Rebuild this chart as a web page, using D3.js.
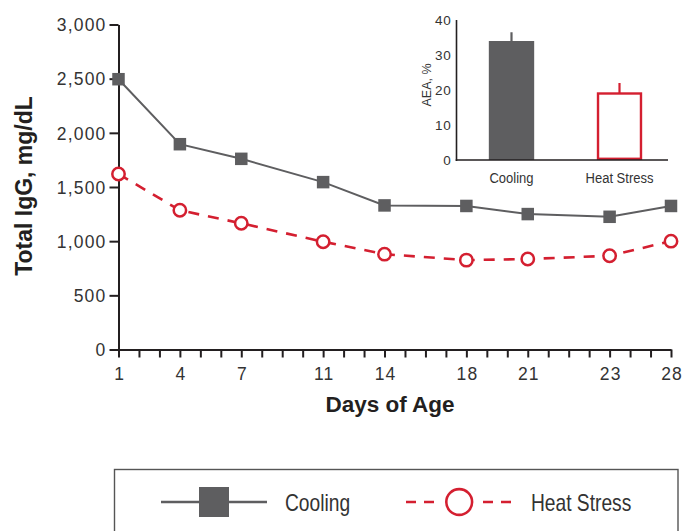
<!DOCTYPE html>
<html>
<head>
<meta charset="utf-8">
<script src="https://cdn.jsdelivr.net/npm/d3@7"></script>
<style>
  html, body { margin: 0; padding: 0; background: #fff; }
  svg { display: block; }
</style>
</head>
<body>
<svg id="chart" width="684" height="531"></svg>
<script>
// ---- Data ----
// Days at which samples are plotted (position on the day axis, as drawn in the original)
const xDays = [1, 4, 7, 11, 14, 18, 21, 25, 28];
// Tick labels printed under those positions in the original
const xLabels = ["1", "4", "7", "11", "14", "18", "21", "23", "28"];
const coolingIgG = [2495, 1895, 1760, 1545, 1330, 1325, 1250, 1225, 1325];
const heatIgG = [1620, 1285, 1165, 995, 880, 825, 835, 865, 1000];
const yTicks = [0, 500, 1000, 1500, 2000, 2500, 3000];

// Inset: AEA, %
const aeaCats = ["Cooling", "Heat Stress"];
const aeaValues = [34, 19];
const aeaErr = [2.5, 3];
const aeaTicks = [0, 10, 20, 30, 40];

const seriesNames = ["Cooling", "Heat Stress"];

// ---- Styles ----
const GRAY = "#5e5e60";
const RED = "#d41f30";
const AXIS = "#231f20";
const TEXT = "#333333";
const numFont = "'Liberation Sans', Arial, sans-serif";
const sansFont = "'Liberation Sans', Arial, sans-serif";
const boldFont = "'Liberation Sans', Arial, sans-serif";

const svg = d3.select("#chart");

// helper: horizontally condensed text
function narrowText(parent, tx, ty, str, size, anchor, sx) {
  return parent.append("text")
    .attr("transform", `translate(${tx},${ty}) scale(${sx},1)`)
    .attr("text-anchor", anchor)
    .attr("font-family", sansFont).attr("font-size", size).attr("fill", TEXT)
    .text(str);
}

// ---- Main chart ----
const x = d3.scaleLinear().domain([1, 28]).range([118.5, 671]);
const y = d3.scaleLinear().domain([0, 3000]).range([349.5, 24.5]);

// X axis
const xAxis = d3.axisBottom(x)
  .tickValues(d3.range(1, 29))
  .tickSize(8)
  .tickSizeOuter(0)
  .tickFormat(d => { const i = xDays.indexOf(d); return i >= 0 ? xLabels[i] : ""; });
const gx = svg.append("g").attr("transform", `translate(0,${y(0)})`).call(xAxis);
gx.select(".domain").attr("stroke", AXIS).attr("stroke-width", 2);
gx.selectAll(".tick line").attr("stroke", AXIS).attr("stroke-width", 2);
gx.selectAll(".tick text")
  .attr("font-family", numFont).attr("font-size", 17.5).attr("fill", TEXT)
  .attr("letter-spacing", 1.2).attr("dx", 0.6)
  .attr("dy", 0).attr("y", 30.5);

// Y axis
const yAxis = d3.axisLeft(y)
  .tickValues(yTicks)
  .tickSize(9)
  .tickSizeOuter(0)
  .tickFormat(d3.format(","));
const gy = svg.append("g").attr("transform", `translate(${x(1)},0)`).call(yAxis);
gy.select(".domain").attr("stroke", AXIS).attr("stroke-width", 2);
gy.selectAll(".tick line").attr("stroke", AXIS).attr("stroke-width", 2);
gy.selectAll(".tick text")
  .attr("font-family", numFont).attr("font-size", 17.5).attr("fill", TEXT)
  .attr("letter-spacing", 1.2)
  .attr("x", -12).attr("dy", "0.36em");

// Axis titles
svg.append("text")
  .attr("transform", `translate(31.5,186) rotate(-90)`)
  .attr("text-anchor", "middle")
  .attr("font-family", boldFont).attr("font-weight", "bold").attr("font-size", 23)
  .attr("fill", AXIS)
  .text("Total IgG, mg/dL");
svg.append("text")
  .attr("x", 390).attr("y", 411.5)
  .attr("text-anchor", "middle")
  .attr("font-family", boldFont).attr("font-weight", "bold").attr("font-size", 22.5)
  .attr("fill", AXIS)
  .text("Days of Age");

// Lines
const line = d3.line().x((d, i) => x(xDays[i])).y(d => y(d));
svg.append("path").datum(coolingIgG)
  .attr("d", line).attr("fill", "none").attr("stroke", GRAY).attr("stroke-width", 2);
svg.append("path").datum(heatIgG)
  .attr("d", line).attr("fill", "none").attr("stroke", RED).attr("stroke-width", 2.6)
  .attr("stroke-dasharray", "11,9");

// Markers
const sq = 12.5;
svg.append("g").selectAll("rect").data(coolingIgG).join("rect")
  .attr("x", (d, i) => x(xDays[i]) - sq / 2)
  .attr("y", d => y(d) - sq / 2)
  .attr("width", sq).attr("height", sq)
  .attr("fill", GRAY);
svg.append("g").selectAll("circle").data(heatIgG).join("circle")
  .attr("cx", (d, i) => x(xDays[i]))
  .attr("cy", d => y(d))
  .attr("r", 6.2)
  .attr("fill", "#fff").attr("stroke", RED).attr("stroke-width", 2.5);

// ---- Inset bar chart ----
const iy = d3.scaleLinear().domain([0, 40]).range([160, 20]);
const ix = d3.scaleBand().domain(aeaCats).range([457.5, 673.5]).paddingInner(0.58).paddingOuter(0.29);
const insetLeft = 456.5, insetRight = 668;

// bars
svg.append("rect")
  .attr("x", ix(aeaCats[0])).attr("y", iy(aeaValues[0]))
  .attr("width", ix.bandwidth()).attr("height", iy(0) - iy(aeaValues[0]))
  .attr("fill", GRAY);
svg.append("rect")
  .attr("x", ix(aeaCats[1]) + 1.2).attr("y", iy(aeaValues[1]))
  .attr("width", ix.bandwidth() - 2.4).attr("height", iy(0) - iy(aeaValues[1]) - 1.2)
  .attr("fill", "#fff").attr("stroke", RED).attr("stroke-width", 2.4);
// error bars
const errColors = [GRAY, RED];
svg.append("g").selectAll("line").data(aeaValues).join("line")
  .attr("x1", (d, i) => ix(aeaCats[i]) + ix.bandwidth() / 2)
  .attr("x2", (d, i) => ix(aeaCats[i]) + ix.bandwidth() / 2)
  .attr("y1", d => iy(d))
  .attr("y2", (d, i) => iy(d + aeaErr[i]))
  .attr("stroke", (d, i) => errColors[i]).attr("stroke-width", 2.2);

// inset axes
svg.append("line").attr("x1", insetLeft).attr("x2", insetLeft).attr("y1", iy(40)).attr("y2", iy(0) + 1)
  .attr("stroke", AXIS).attr("stroke-width", 1.6);
svg.append("line").attr("x1", insetLeft - 0.8).attr("x2", insetRight).attr("y1", iy(0)).attr("y2", iy(0))
  .attr("stroke", AXIS).attr("stroke-width", 1.6);
svg.append("g").selectAll("text").data(aeaTicks).join("text")
  .attr("x", 451.5).attr("y", d => iy(d)).attr("dy", "0.36em")
  .attr("text-anchor", "end")
  .attr("font-family", numFont).attr("font-size", 13.5).attr("fill", TEXT)
  .attr("letter-spacing", 0.8)
  .text(d => d);
const catG = svg.append("g");
aeaCats.forEach(c => narrowText(catG, ix(c) + ix.bandwidth() / 2, 183, c, 15.5, "middle", 0.84));
svg.append("text")
  .attr("transform", "translate(431,85) rotate(-90)")
  .attr("text-anchor", "middle")
  .attr("font-family", sansFont).attr("font-size", 12.5).attr("fill", TEXT)
  .text("AEA, %");

// ---- Legend ----
svg.append("rect")
  .attr("x", 114.5).attr("y", 469.5).attr("width", 563.5).attr("height", 80)
  .attr("fill", "none").attr("stroke", "#555").attr("stroke-width", 1.4);
const ly = 502;
const legG = svg.append("g");
// Cooling
legG.append("line").attr("x1", 161).attr("x2", 267).attr("y1", ly).attr("y2", ly)
  .attr("stroke", GRAY).attr("stroke-width", 2.4);
legG.append("rect").attr("x", 199).attr("y", ly - 15).attr("width", 30).attr("height", 30).attr("fill", GRAY);
narrowText(legG, 285, ly + 8.6, seriesNames[0], 24, "start", 0.8);
// Heat Stress
legG.append("line").attr("x1", 406).attr("x2", 434).attr("y1", ly).attr("y2", ly)
  .attr("stroke", RED).attr("stroke-width", 2.6).attr("stroke-dasharray", "10,8");
legG.append("line").attr("x1", 483).attr("x2", 511).attr("y1", ly).attr("y2", ly)
  .attr("stroke", RED).attr("stroke-width", 2.6).attr("stroke-dasharray", "10,8");
legG.append("circle").attr("cx", 459.2).attr("cy", ly).attr("r", 12.9)
  .attr("fill", "#fff").attr("stroke", RED).attr("stroke-width", 2.6);
narrowText(legG, 531, ly + 8.6, seriesNames[1], 24, "start", 0.8);
</script>
</body>
</html>
